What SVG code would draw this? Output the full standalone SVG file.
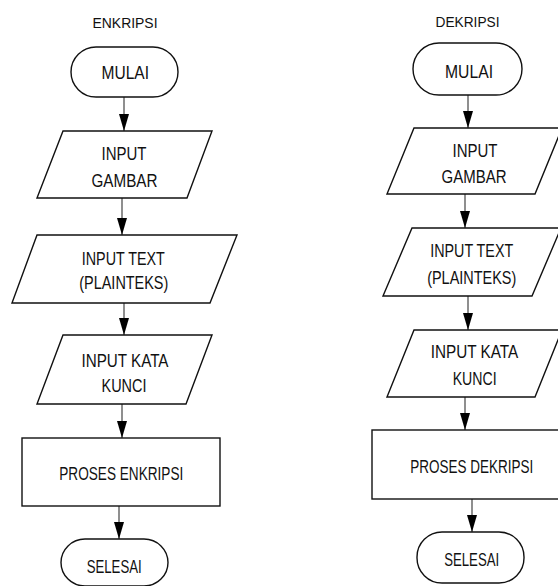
<svg xmlns="http://www.w3.org/2000/svg" width="558" height="586" viewBox="0 0 558 586">
<style>
.shape{fill:#fff;stroke:#111;stroke-width:1.4}
.conn{stroke:#333;stroke-width:1.1;fill:none}
text{font-family:"Liberation Sans",Arial,sans-serif;font-size:19px;fill:#111;text-anchor:middle}
.title{font-size:15.5px}
</style>
<defs>
<marker id="arr" viewBox="0 0 17 10" markerWidth="17" markerHeight="10" refX="17" refY="5" orient="auto" markerUnits="userSpaceOnUse">
<path d="M0,0 L17,5 L0,10 z" fill="#000"/>
</marker>
</defs>
<rect width="558" height="586" fill="#fff"/>
<text class="title" x="125" y="28.3" textLength="65" lengthAdjust="spacingAndGlyphs">ENKRIPSI</text>
<text class="title" x="467.5" y="26.7" textLength="64" lengthAdjust="spacingAndGlyphs">DEKRIPSI</text>
<g id="connectors">
<line class="conn" x1="124" y1="97" x2="124" y2="131" marker-end="url(#arr)"/>
<line class="conn" x1="122" y1="198" x2="122" y2="235" marker-end="url(#arr)"/>
<line class="conn" x1="124" y1="303" x2="124" y2="335" marker-end="url(#arr)"/>
<line class="conn" x1="122" y1="404" x2="122" y2="438" marker-end="url(#arr)"/>
<line class="conn" x1="119" y1="506" x2="119" y2="539" marker-end="url(#arr)"/>
<line class="conn" x1="468" y1="95" x2="468" y2="128" marker-end="url(#arr)"/>
<line class="conn" x1="465" y1="194" x2="465" y2="228" marker-end="url(#arr)"/>
<line class="conn" x1="468" y1="296" x2="468" y2="330" marker-end="url(#arr)"/>
<line class="conn" x1="465" y1="397" x2="465" y2="430" marker-end="url(#arr)"/>
<line class="conn" x1="472" y1="499" x2="472" y2="532" marker-end="url(#arr)"/>
</g>
<g id="enc-start">
<rect class="shape" x="71" y="47" width="107" height="50" rx="25"/>
<text x="125.3" y="79.3" textLength="47.5" lengthAdjust="spacingAndGlyphs">MULAI</text>
</g>
<g id="enc-gambar">
<polygon class="shape" points="63,131 212,131 187,198 37,198"/>
<text x="124" y="160" textLength="45" lengthAdjust="spacingAndGlyphs">INPUT</text>
<text x="124.5" y="186.5" textLength="66" lengthAdjust="spacingAndGlyphs">GAMBAR</text>
</g>
<g id="enc-text">
<polygon class="shape" points="37,235 237,235 210,303 12,303"/>
<text x="123.3" y="265" textLength="83" lengthAdjust="spacingAndGlyphs">INPUT TEXT</text>
<text x="123.8" y="289" textLength="89" lengthAdjust="spacingAndGlyphs">(PLAINTEKS)</text>
</g>
<g id="enc-kunci">
<polygon class="shape" points="63,335 212,335 186,404 37,404"/>
<text x="125" y="366.5" textLength="87" lengthAdjust="spacingAndGlyphs">INPUT KATA</text>
<text x="124" y="391.5" textLength="45" lengthAdjust="spacingAndGlyphs">KUNCI</text>
</g>
<g id="enc-proses">
<rect class="shape" x="22" y="438" width="198" height="68"/>
<text x="121.3" y="480" textLength="124" lengthAdjust="spacingAndGlyphs">PROSES ENKRIPSI</text>
</g>
<g id="enc-end">
<rect class="shape" x="61" y="539" width="107" height="47" rx="24"/>
<text x="114.2" y="573.3" textLength="55" lengthAdjust="spacingAndGlyphs">SELESAI</text>
</g>
<g id="dec-start">
<rect class="shape" x="413" y="43" width="109" height="52" rx="26"/>
<text x="469" y="78.3" textLength="48" lengthAdjust="spacingAndGlyphs">MULAI</text>
</g>
<g id="dec-gambar">
<polygon class="shape" points="414,128 562,128 535,194 387,194"/>
<text x="475" y="156.7" textLength="45" lengthAdjust="spacingAndGlyphs">INPUT</text>
<text x="474" y="183.3" textLength="65" lengthAdjust="spacingAndGlyphs">GAMBAR</text>
</g>
<g id="dec-text">
<polygon class="shape" points="412,228 561,228 532,296 383,296"/>
<text x="471.7" y="256.7" textLength="83" lengthAdjust="spacingAndGlyphs">INPUT TEXT</text>
<text x="471.7" y="284" textLength="89" lengthAdjust="spacingAndGlyphs">(PLAINTEKS)</text>
</g>
<g id="dec-kunci">
<polygon class="shape" points="414,330 562,330 535,397 387,397"/>
<text x="474.5" y="358.3" textLength="87.6" lengthAdjust="spacingAndGlyphs">INPUT KATA</text>
<text x="474.7" y="385" textLength="44" lengthAdjust="spacingAndGlyphs">KUNCI</text>
</g>
<g id="dec-proses">
<rect class="shape" x="372" y="430" width="198" height="69"/>
<text x="471.7" y="473.3" textLength="123" lengthAdjust="spacingAndGlyphs">PROSES DEKRIPSI</text>
</g>
<g id="dec-end">
<rect class="shape" x="417" y="532" width="107" height="51" rx="25"/>
<text x="471.7" y="566" textLength="55" lengthAdjust="spacingAndGlyphs">SELESAI</text>
</g>
</svg>
